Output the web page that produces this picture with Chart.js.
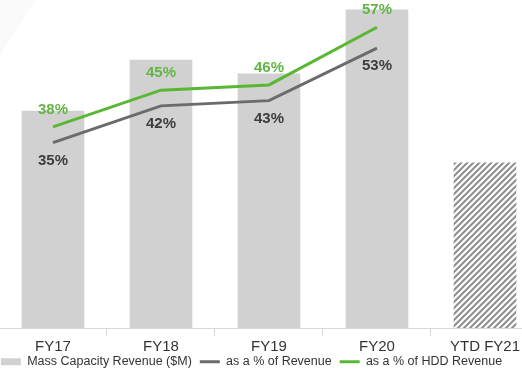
<!DOCTYPE html>
<html>
<head>
<meta charset="utf-8">
<script src="https://cdn.jsdelivr.net/npm/chart.js@4/dist/chart.umd.min.js"></script>
<style>
  html, body { margin: 0; padding: 0; overflow: hidden; }
  body {
    width: 522px; height: 378px;
    background: linear-gradient(to bottom right, #fafafa 50%, rgba(255,255,255,0) 50%) 0 0 / 35px 56px no-repeat, #ffffff;
  }
  #wrap { position: absolute; left: 0; top: 0; width: 522px; height: 378px; }
</style>
</head>
<body>
<div id="wrap"><canvas id="c"></canvas></div>
<script>
// ---- data ----
const categories = ['FY17', 'FY18', 'FY19', 'FY20', 'YTD FY21'];
const massCapacityRevenue = [3970, 4900, 4650, 5820, 3020];
const pctOfRevenue = [35, 42, 43, 53, null];
const pctOfHddRevenue = [38, 45, 46, 57, null];
const seriesNames = ['Mass Capacity Revenue ($M)', 'as a % of Revenue', 'as a % of HDD Revenue'];

// ---- styles ----
const BAR = '#d1d1d1';
const GRAY_LINE = '#6b6b6b';
const GRAY_TXT = '#3d3d3d';
const GREEN_LINE = '#5ab734';
const GREEN_TXT = '#62b545';

Chart.defaults.font.family = "'Liberation Sans', Arial, sans-serif";

function hatchPattern() {
  const c = document.createElement('canvas');
  c.width = 6; c.height = 6;
  const g = c.getContext('2d');
  g.strokeStyle = '#8e8e8e';
  g.lineWidth = 2;
  g.beginPath();
  g.moveTo(0, 6); g.lineTo(6, 0);
  g.moveTo(-3, 3); g.lineTo(3, -3);
  g.moveTo(3, 9); g.lineTo(9, 3);
  g.stroke();
  return g.createPattern(c, 'repeat');
}
const hatch = hatchPattern();

const baselinePlugin = {
  id: 'baseline',
  afterDatasetsDraw(chart) {
    const ctx = chart.ctx;
    const y = Math.round(chart.scales.y.getPixelForValue(0)) + 0.5;
    ctx.save();
    ctx.strokeStyle = '#d9d9d9';
    ctx.lineWidth = 1;
    ctx.beginPath();
    ctx.moveTo(0, y);
    ctx.lineTo(chart.width, y);
    ctx.stroke();
    ctx.restore();
  }
};

const labelPlugin = {
  id: 'pctLabels',
  afterDatasetsDraw(chart) {
    const ctx = chart.ctx;
    ctx.save();
    ctx.font = "bold 15px 'Liberation Sans', Arial, sans-serif";
    ctx.textAlign = 'center';
    ctx.textBaseline = 'middle';
    const specs = [
      { idx: 1, dy: 18, color: GRAY_TXT },
      { idx: 2, dy: -17, color: GREEN_TXT }
    ];
    specs.forEach(s => {
      const meta = chart.getDatasetMeta(s.idx);
      const vals = chart.data.datasets[s.idx].data;
      meta.data.forEach((pt, i) => {
        if (vals[i] == null) return;
        ctx.fillStyle = s.color;
        ctx.fillText(vals[i] + '%', pt.x, pt.y + s.dy);
      });
    });
    ctx.restore();
  }
};

new Chart(document.getElementById('c'), {
  type: 'bar',
  data: {
    labels: categories,
    datasets: [
      {
        type: 'bar',
        label: seriesNames[0],
        data: massCapacityRevenue,
        backgroundColor: [BAR, BAR, BAR, BAR, hatch],
        borderWidth: 0,
        barThickness: 62,
        yAxisID: 'y',
        clip: false,
        order: 3
      },
      {
        type: 'line',
        label: seriesNames[1],
        data: pctOfRevenue,
        borderColor: GRAY_LINE,
        borderWidth: 3,
        pointRadius: 0,
        tension: 0,
        fill: false,
        yAxisID: 'y1',
        clip: false,
        order: 2
      },
      {
        type: 'line',
        label: seriesNames[2],
        data: pctOfHddRevenue,
        borderColor: GREEN_LINE,
        borderWidth: 3,
        pointRadius: 0,
        tension: 0,
        fill: false,
        yAxisID: 'y1',
        clip: false,
        order: 1
      }
    ]
  },
  options: {
    responsive: true,
    maintainAspectRatio: false,
    animation: false,
    layout: { padding: { left: -25, right: -6, top: 0, bottom: 0 } },
    plugins: {
      tooltip: { enabled: false },
      legend: {
        position: 'bottom',
        labels: {
          usePointStyle: true,
          pointStyleWidth: 20,
          boxHeight: 7,
          padding: 8,
          color: '#333333',
          font: { size: 12.5 },
          generateLabels(chart) {
            return chart.data.datasets.map((ds, i) => ({
              text: ds.label,
              fillStyle: i === 0 ? BAR : 'rgba(0,0,0,0)',
              strokeStyle: i === 0 ? BAR : ds.borderColor,
              lineWidth: i === 0 ? 0 : 3,
              pointStyle: i === 0 ? 'rect' : 'line',
              hidden: false,
              datasetIndex: i,
              fontColor: '#333333'
            }));
          }
        }
      }
    },
    scales: {
      x: {
        type: 'category',
        position: { y: 0 },
        offset: false,
        grid: { display: true, offset: true, drawOnChartArea: false, drawTicks: true, tickLength: 8, color: '#d9d9d9' },
        border: { display: false },
        ticks: { color: '#333333', font: { size: 15 }, padding: 2, maxRotation: 0, autoSkip: false }
      },
      y: {
        position: 'left',
        min: -357,
        max: 6000,
        grid: { display: false },
        border: { display: false },
        ticks: { display: false },
        afterFit(s) { s.width = 78; }
      },
      y1: {
        position: 'right',
        min: -4.1,
        max: 62.2,
        grid: { display: false },
        border: { display: false },
        ticks: { display: false },
        afterFit(s) { s.width = 43; }
      }
    }
  },
  plugins: [baselinePlugin, labelPlugin]
});
</script>
</body>
</html>
